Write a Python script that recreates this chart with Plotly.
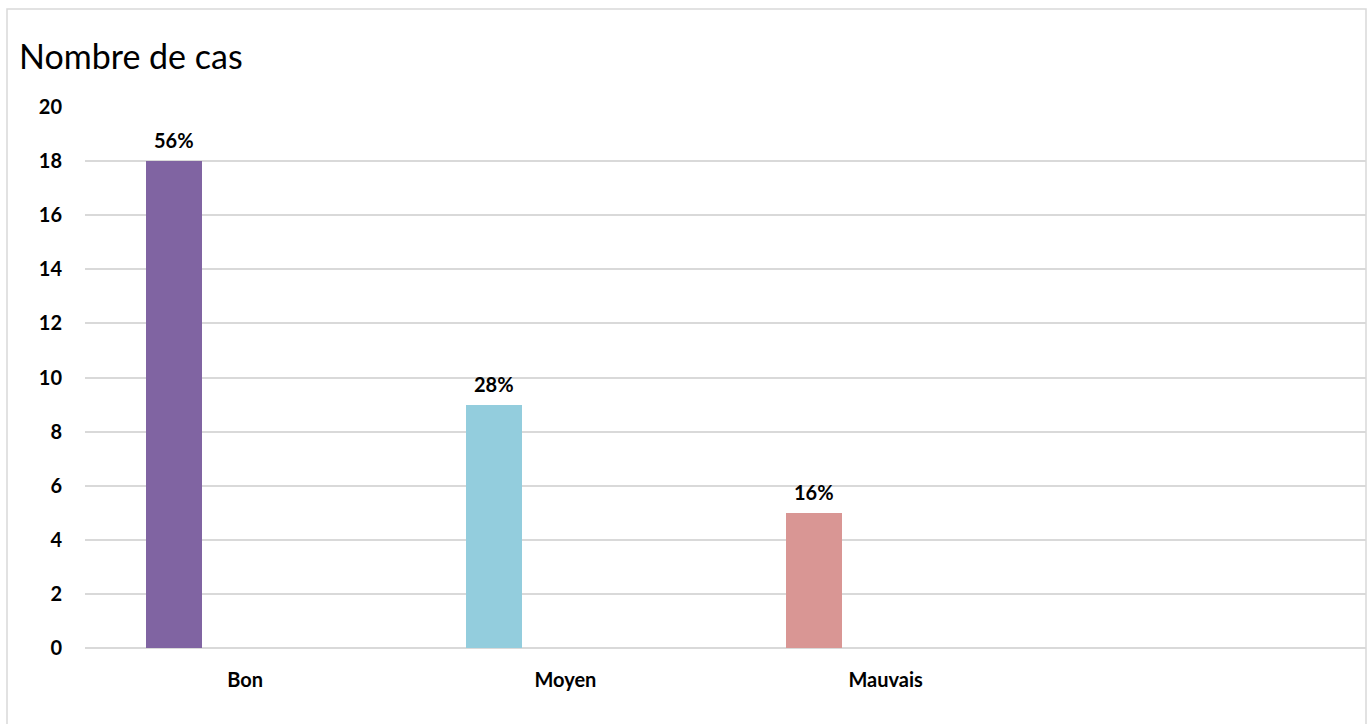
import plotly.graph_objects as go

# Data
categories = ["Bon", "Moyen", "Mauvais"]
counts = [18, 9, 5]
percent_labels = ["56%", "28%", "16%"]
bar_colors = ["#8064A2", "#93CDDD", "#D99694"]
y_ticks = list(range(0, 21, 2))

# Category slots: one extra empty slot on the right
n_slots = 4
positions = list(range(len(categories)))
bar_offset = -0.31   # left edge of bar relative to slot centre
bar_width = 0.175

FONT = "Lato, 'Open Sans', sans-serif"
LABEL_SIZE = 20

fig = go.Figure()
fig.add_trace(go.Bar(
    x=positions,
    y=counts,
    marker=dict(color=bar_colors, line=dict(width=0)),
    offset=bar_offset,
    width=bar_width,
    hoverinfo="skip",
))

for pos, val, lab in zip(positions, counts, percent_labels):
    fig.add_annotation(
        x=pos + bar_offset + bar_width / 2, y=val, xref="x", yref="y",
        text=lab, showarrow=False, yanchor="bottom", yshift=7,
        font=dict(family=FONT, size=LABEL_SIZE, color="#000000", weight="bold"),
    )

# Plot-area geometry in pixels (used for title and border placement)
W, H = 1368, 724
ML, MR, MT, MB = 85, 2, 107, 76
PW, PH = W - ML - MR, H - MT - MB

# Chart title
fig.add_annotation(
    x=(17 - ML) / PW, y=1 + (MT - 55) / PH, xref="paper", yref="paper",
    text="Nombre de cas", showarrow=False, xanchor="left", yanchor="middle",
    font=dict(family=FONT, size=34, color="#000000"),
)

fig.update_layout(
    width=W, height=H,
    margin=dict(l=ML, r=MR, t=MT, b=MB),
    paper_bgcolor="#FFFFFF", plot_bgcolor="#FFFFFF",
    showlegend=False,
    bargap=0,
)

fig.update_xaxes(
    range=[-0.5, n_slots - 0.5],
    tickvals=positions, ticktext=categories,
    showgrid=False, zeroline=False, showline=False, ticks="",
    tickfont=dict(family=FONT, size=LABEL_SIZE, color="#000000", weight="bold"),
    ticklabelstandoff=18,
)
fig.update_yaxes(
    range=[0, 20], tickvals=y_ticks,
    showgrid=True, gridcolor="#D9D9D9", gridwidth=1.5,
    zeroline=True, zerolinecolor="#D9D9D9", zerolinewidth=1.5,
    showline=False, ticks="",
    tickfont=dict(family=FONT, size=LABEL_SIZE, color="#000000", weight="bold"),
    ticklabelstandoff=22,
)

# Outer chart border
fig.add_shape(
    type="rect", xref="paper", yref="paper",
    x0=(7 - ML) / PW, x1=(1366 - ML) / PW,
    y0=1 + (MT - 730) / PH, y1=1 + (MT - 9) / PH,
    line=dict(color="#D9D9D9", width=1.5), fillcolor="rgba(0,0,0,0)",
    layer="below",
)

fig.write_html("out.html")
